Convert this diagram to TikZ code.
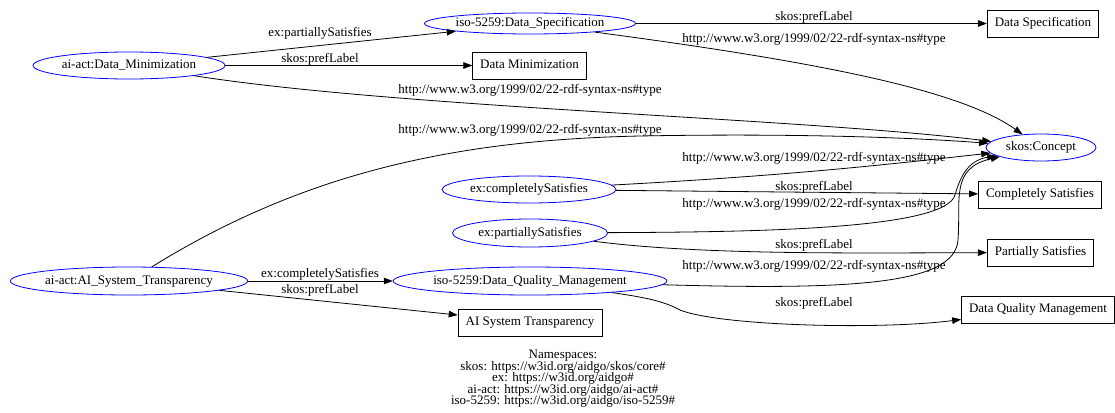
\documentclass[tikz,border=0pt]{standalone}
\usepackage{fontspec}
\setmainfont{Liberation Serif}
\usepackage{tikz}
\usetikzlibrary{arrows.meta, shapes.geometric}
\definecolor{rdfBlue}{rgb}{0, 0, 1}
\newcommand{\rdftype}{http://www.w3.org/1999/02/22-rdf-syntax-ns\#type}
\newcommand{\nsfont}{\fontsize{13}{11.5}\selectfont\lineskiplimit=-10pt\relax}
\tikzset{
	res/.style={ellipse, draw=rdfBlue, line width=0.8pt, inner xsep=0pt, inner ysep=0pt, minimum height=27pt, text height=9pt, text depth=2.5pt},
	lit/.style={rectangle, draw=black, line width=0.8pt, inner xsep=7.5pt, inner ysep=0pt, minimum height=27pt, text height=9pt, text depth=2.5pt},
	rel/.style={line width=0.8pt, -{Triangle[length=9pt, width=6.5pt]}},
	lbl/.style={inner sep=0pt, text height=9pt, text depth=2.5pt}
}

\begin{document}
\begin{tikzpicture}[x=1pt, y=-1pt, line cap=round, font=\fontsize{13}{15}\selectfont]

	\useasboundingbox (0,0) rectangle (1115,412);

	\node[res, minimum width=192pt] (DM) at (129,65.5) {ai-act:Data\_Minimization};
	\node[res, minimum width=211pt, minimum height=21pt] (DS) at (530,23.5) {iso-5259:Data\_Specification};
	\node[res, minimum width=110pt] (Concept) at (1041,147.5) {skos:Concept};
	\node[res, minimum width=174pt] (cS) at (529,189.5) {ex:completelySatisfies};
	\node[res, minimum width=155pt, minimum height=28pt] (pS) at (530,233) {ex:partiallySatisfies};
	\node[res, minimum width=233pt, minimum height=28pt] (AIT) at (129,281) {ai-act:AI\_System\_Transparency};
	\node[res, minimum width=270pt, minimum height=28pt] (DQM) at (530,281) {iso-5259:Data\_Quality\_Management};

	\node[lit] (DSlab) at (1043,23.5) {Data Specification};
	\node[lit] (DMlab) at (529.5,65.5) {Data Minimization};
	\node[lit] (CSlab) at (1040,194.5) {Completely Satisfies};
	\node[lit] (PSlab) at (1040.5,252.5) {Partially Satisfies};
	\node[lit] (DQMlab) at (1038,309.5) {Data Quality Management};
	\node[lit] (AITlab) at (530,322.5) {AI System Transparency};

	\draw[rel] (DM) -- (DS) node[lbl] at (320,33) {ex:partiallySatisfies};
	\draw[rel] (DM) -- (DMlab) node[lbl] at (320,59) {skos:prefLabel};
	\draw[rel] (DM) .. controls (400,108) and (800,118) .. (Concept) node[lbl] at (530,90) {\rdftype};

	\draw[rel] (DS) -- (DSlab) node[lbl] at (814,17) {skos:prefLabel};
	\draw[rel] (DS) .. controls (820,62) and (960,90) .. (Concept) node[lbl] at (814,39) {\rdftype};

	\draw[rel] (AIT) .. controls (300,175) and (450,140) .. (640,136) .. controls (800,133) and (920,138) .. (Concept) node[lbl] at (530,130) {\rdftype};

	\draw[rel] (cS) .. controls (800,175) and (900,163) .. (Concept) node[lbl] at (814,158) {\rdftype};
	\draw[rel] (cS) -- (CSlab) node[lbl] at (814,187) {skos:prefLabel};

	\draw[rel] (pS) .. controls (750,232) and (945,230) .. (955,195) .. controls (962,170) and (972,160) .. (Concept) node[lbl] at (814,204) {\rdftype};
	\draw[rel] (pS) .. controls (700,255) and (850,253) .. (PSlab) node[lbl] at (814,245) {skos:prefLabel};

	\draw[rel] (AIT) -- (DQM) node[lbl] at (320,274) {ex:completelySatisfies};
	\draw[rel] (AIT) -- (AITlab) node[lbl] at (320,290) {skos:prefLabel};

	\draw[rel] (DQM) .. controls (850,290) and (955,285) .. (958,240) .. controls (961,200) and (950,168) .. (Concept) node[lbl] at (814,266) {\rdftype};
	\draw[rel] (DQM) .. controls (650,298) and (665,302) .. (680,310) .. controls (720,326) and (880,330) .. (DQMlab) node[lbl] at (814,303) {skos:prefLabel};

	\node[align=center, font=\nsfont] (ns) at (563,379) {Namespaces:\\skos: https://w3id.org/aidgo/skos/core\#\\ex: https://w3id.org/aidgo\#\\ai-act: https://w3id.org/aidgo/ai-act\#\\iso-5259: https://w3id.org/aidgo/iso-5259\#};

\end{tikzpicture}
\end{document}
